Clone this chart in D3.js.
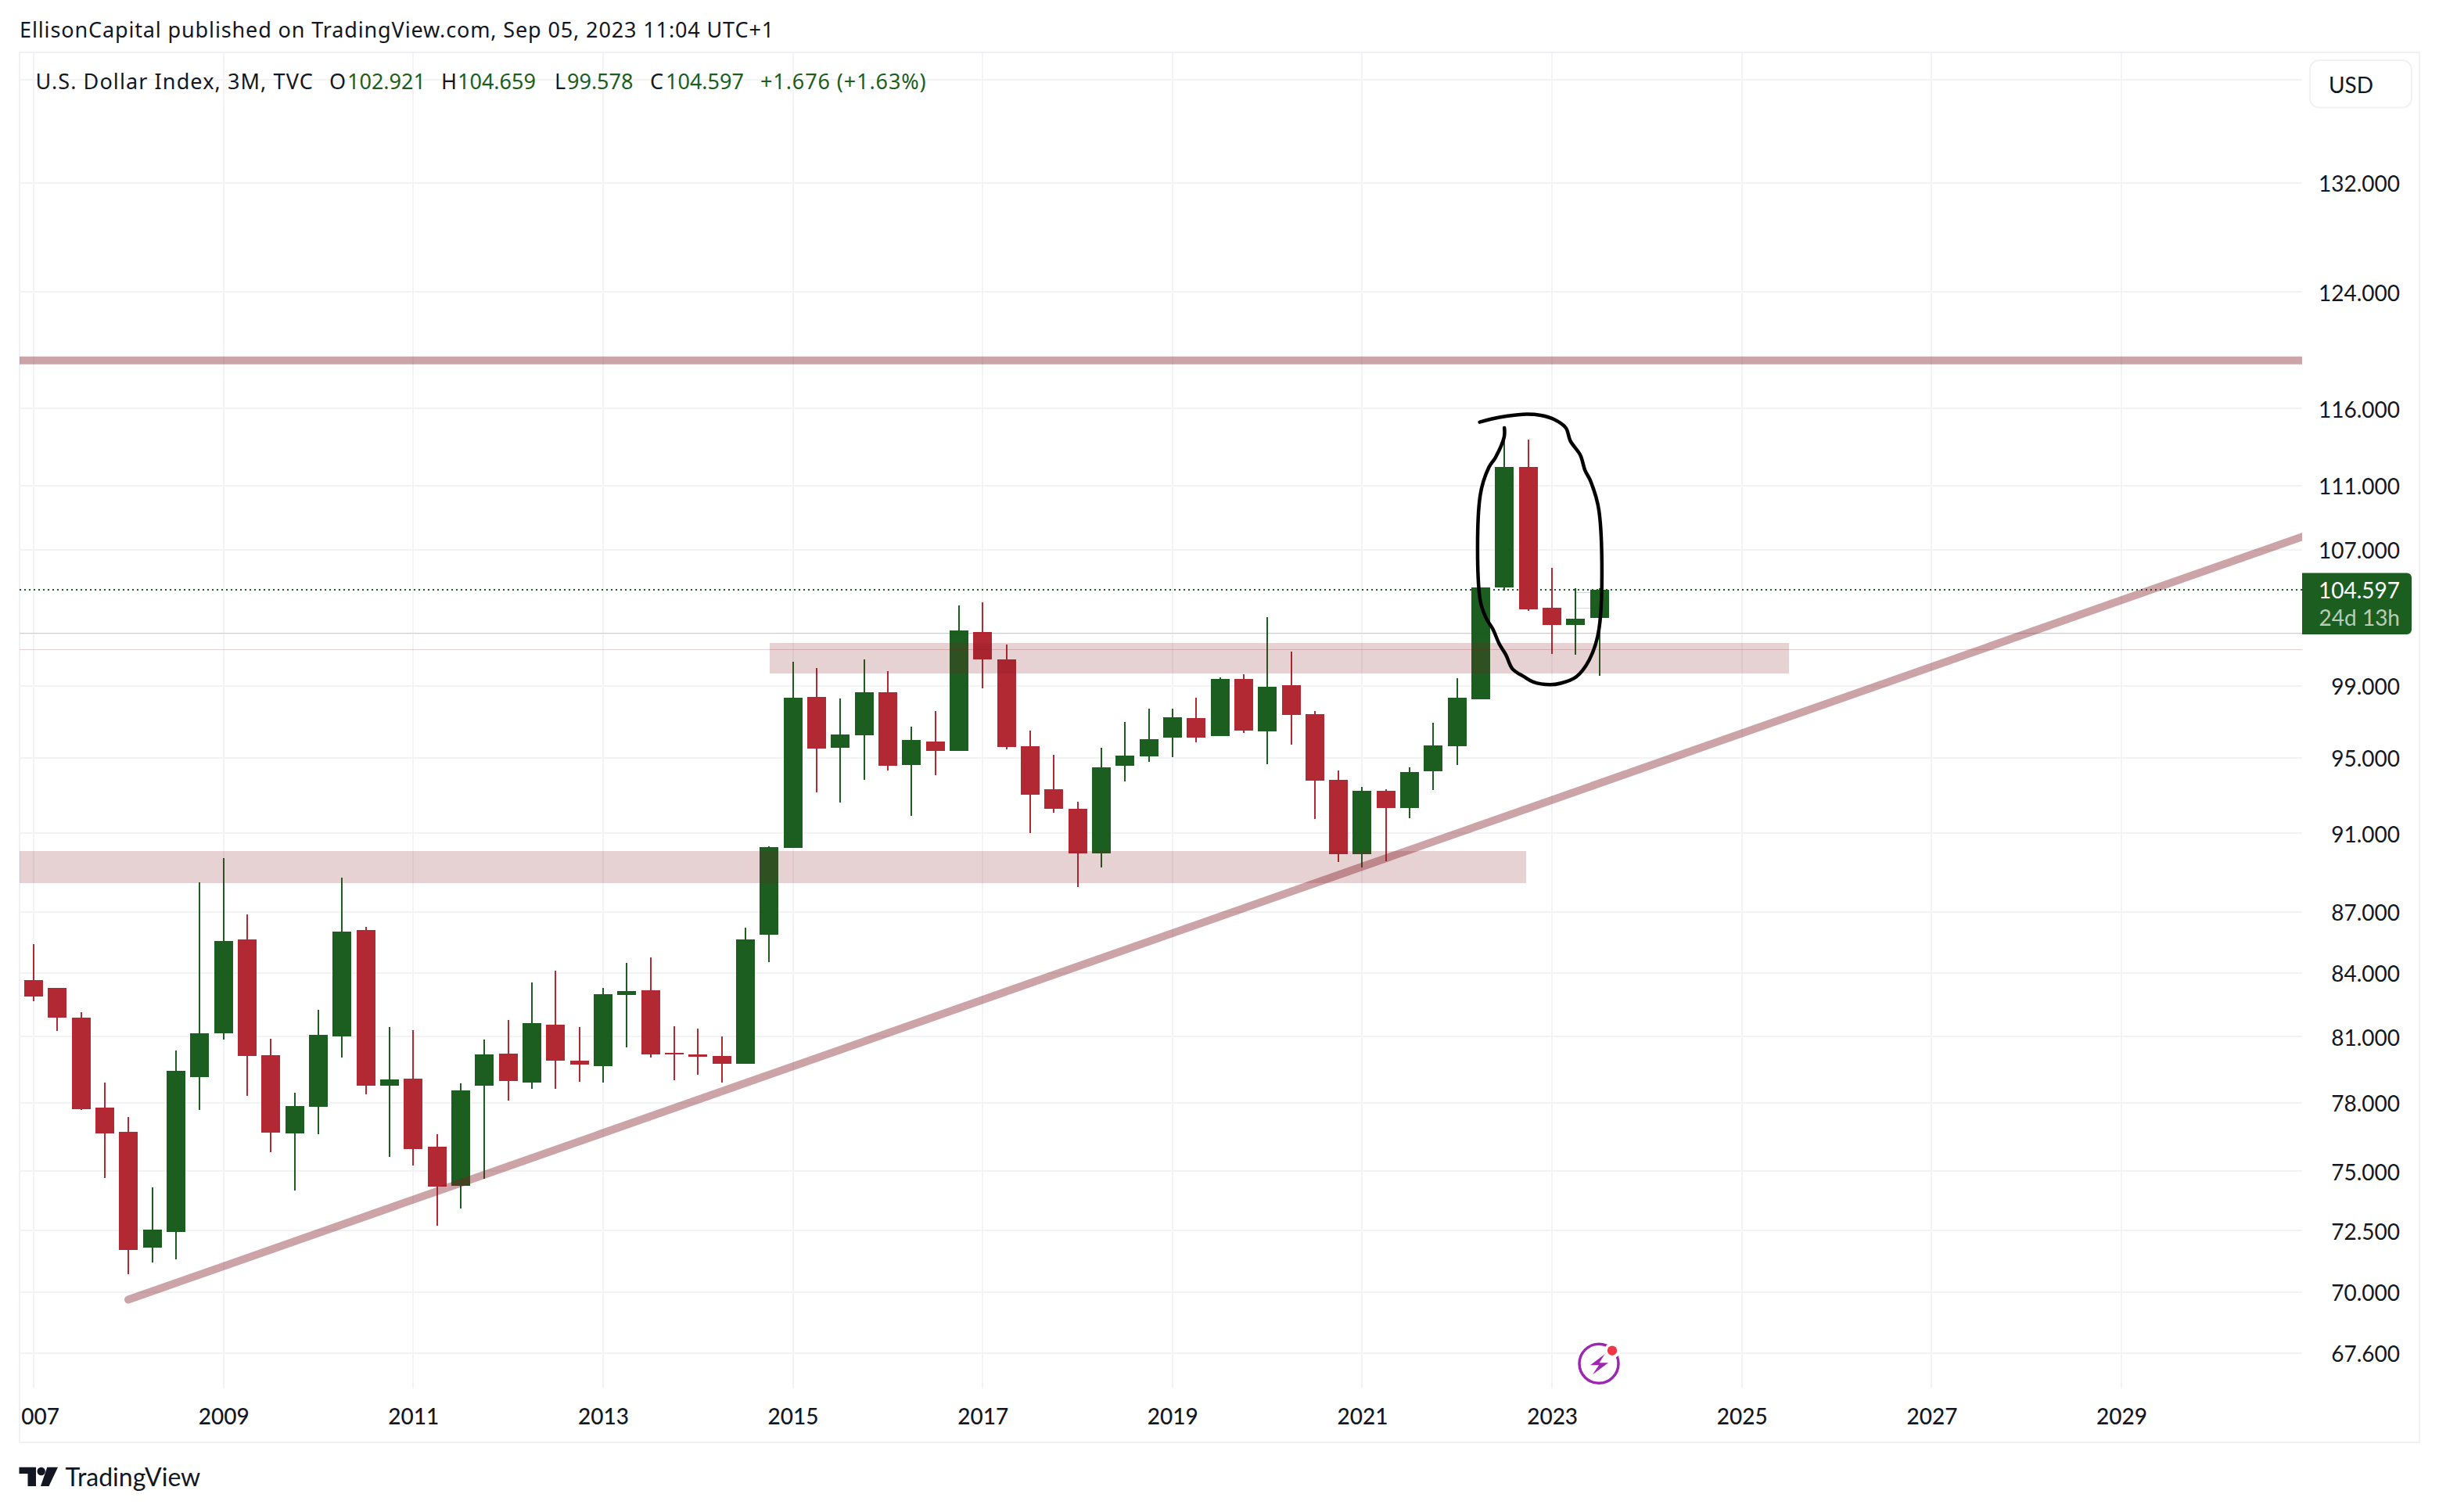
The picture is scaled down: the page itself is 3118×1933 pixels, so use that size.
<!DOCTYPE html>
<html><head><meta charset="utf-8">
<script src="https://cdn.jsdelivr.net/npm/d3@7/dist/d3.min.js"></script>
<style>html,body{margin:0;padding:0;background:#fff}svg{display:block}text{font-family:Lato,"Noto Sans",sans-serif;fill:#131722}</style>
</head><body><svg id="c" width="3118" height="1933"></svg>
<script>
// Quarterly candles, 2007 Q1 .. 2023 Q3
const opens=[83.66,83.29,81.87,77.77,76.70,71.81,72.44,79.15,81.15,85.64,80.14,76.63,77.80,81.00,86.08,78.76,79.08,76.05,74.39,78.76,80.21,78.91,81.54,79.90,79.65,82.95,83.17,80.26,80.18,80.11,79.75,85.85,90.23,98.38,95.54,96.23,98.64,94.61,95.89,95.38,102.10,100.49,95.63,93.29,92.27,89.96,94.57,95.09,96.10,97.18,96.18,99.38,96.45,99.02,97.39,93.80,89.92,93.21,92.31,94.27,95.63,98.25,104.71,112.17,103.49,102.50,102.921];
const closes=[82.87,81.90,77.70,76.63,71.69,72.53,79.44,81.15,85.56,80.11,76.67,77.84,81.08,86.03,78.76,79.05,75.96,74.33,78.54,80.18,78.98,81.62,79.90,79.72,82.99,83.14,80.18,80.18,80.07,79.75,85.64,90.27,98.34,95.50,96.27,98.64,94.57,95.97,95.38,102.19,100.49,95.59,93.01,92.27,89.96,94.49,95.13,96.01,97.22,96.10,99.38,96.49,98.93,97.35,93.76,89.92,93.21,92.31,94.23,95.67,98.34,104.71,112.17,103.44,102.50,102.86,104.597];
const highs=[85.42,83.29,82.15,78.91,77.35,74.30,80.35,88.47,89.70,86.85,80.90,78.43,82.26,88.70,86.23,81.44,81.29,76.60,78.86,80.87,81.77,83.54,84.10,81.44,83.29,84.49,84.75,81.47,81.36,81.00,86.20,90.31,100.36,100.00,98.29,100.49,99.82,96.70,97.56,103.63,103.82,101.34,96.49,95.17,92.63,95.54,96.96,97.69,97.69,98.34,99.46,99.64,102.95,100.94,97.60,94.30,93.42,93.33,94.49,96.92,99.42,104.71,114.70,113.95,105.90,104.67,104.659];
const lows=[82.65,81.26,77.66,74.72,70.71,71.18,71.30,77.66,80.87,78.32,75.83,74.17,76.60,80.04,78.39,75.62,75.25,72.69,73.42,74.68,78.09,78.63,78.63,78.94,78.91,80.51,80.04,79.01,79.26,78.91,79.75,84.51,90.23,93.13,92.59,93.80,94.30,91.91,94.05,95.38,98.85,95.46,91.00,92.06,88.23,89.23,93.72,94.79,95.02,95.84,96.18,96.36,94.66,95.71,91.73,89.52,89.23,89.56,91.77,93.25,94.61,98.25,104.56,103.35,100.81,100.76,99.578];

const priceTicks=[132,124,116,111,107,99,95,91,87,84,81,78,75,72.5,70,67.6];
const hiddenGridPrices=[140,102];
const yearTicks=[2007,2009,2011,2013,2015,2017,2019,2021,2023,2025,2027,2029];
const lastPrice=104.597;

// Drawings: [start index, end index, price, price]
const zoneBands=[[-2,62.9,90.06,88.44],[31.03,73.99,101.45,99.69]];
const thickLevel=119.24;
const thinLevels=[102.02,101.07];
const shortLevels=[[65.0,65.95,104.44],[65.0,65.95,103.49]];
const trendIdx=[3.99,96.5];
const trendPrice=[69.69,108.26];
const circleIdx=[60.95,61.78,62.77,63.53,64.09,64.58,64.77,65.19,65.39,65.62,65.98,65.98,65.57,65.02,64.36,63.92,63.21,62.82,62.33,62.05,61.78,61.5,61.23,60.97,60.97,61.34,61.61,61.98,61.99];
const circlePrice=[115.11,115.42,115.62,115.55,115.28,114.73,113.88,112.96,111.97,111.30,109.39,102.27,100.48,99.51,99.14,99.06,99.21,99.51,99.96,100.78,101.38,102.27,102.88,103.97,110.37,112.18,112.79,114.13,114.73];

const green="#1b5e20",red="#b22833",ink="#131722",grid="#f3f3f5",border="#f0f1f7",mark="#801922";
const svg=d3.select("#c");
const x=d3.scaleLinear().domain([0,66]).range([43,2044.8]);
const y=d3.scaleLog().domain([70,132]).range([1651.6,233.5]);
const paneL=25,paneR=2943,paneT=67,paneB=1775;
const idx=opens.map((_,i)=>i);

const defs=svg.append("defs");
defs.append("clipPath").attr("id","pane").append("rect").attr("x",paneL).attr("y",paneT).attr("width",paneR-paneL).attr("height",paneB-paneT);
defs.append("clipPath").attr("id","timeclip").append("rect").attr("x",26.5).attr("y",paneB).attr("width",3093-26.5).attr("height",1844-paneB);

// frame
svg.append("rect").attr("x",paneL).attr("y",paneT).attr("width",3093-paneL).attr("height",1844-paneT).attr("fill","none").attr("stroke",border).attr("stroke-width",2);

const pane=svg.append("g").attr("clip-path","url(#pane)");
pane.selectAll("line.gy").data(priceTicks.concat(hiddenGridPrices)).join("line").attr("class","gy")
 .attr("x1",paneL).attr("x2",paneR).attr("y1",d=>y(d)).attr("y2",d=>y(d)).attr("stroke",grid).attr("stroke-width",2).attr("shape-rendering","crispEdges");
pane.selectAll("line.gx").data(yearTicks).join("line").attr("class","gx")
 .attr("x1",d=>x((d-2007)*4)).attr("x2",d=>x((d-2007)*4)).attr("y1",paneT).attr("y2",paneB).attr("stroke",grid).attr("stroke-width",2).attr("shape-rendering","crispEdges");

// last price dotted
pane.append("line").attr("x1",paneL).attr("x2",paneR).attr("y1",y(lastPrice)).attr("y2",y(lastPrice))
 .attr("stroke",green).attr("stroke-width",2).attr("stroke-dasharray","2 4").attr("shape-rendering","crispEdges");

// candles
const col=i=>closes[i]>=opens[i]?green:red;
pane.selectAll("line.wick").data(idx).join("line").attr("class","wick")
 .attr("x1",i=>x(i)).attr("x2",i=>x(i)).attr("y1",i=>y(highs[i])).attr("y2",i=>y(lows[i])).attr("stroke",col).attr("stroke-width",2).attr("shape-rendering","crispEdges");
pane.selectAll("rect.body").data(idx).join("rect").attr("class","body")
 .attr("x",i=>x(i)-12).attr("width",24)
 .attr("y",i=>y(Math.max(opens[i],closes[i])))
 .attr("height",i=>Math.max(2,Math.abs(y(opens[i])-y(closes[i])))).attr("fill",col).attr("shape-rendering","crispEdges");

// zones and levels
pane.selectAll("rect.zone").data(zoneBands).join("rect").attr("class","zone")
 .attr("x",d=>x(d[0])).attr("width",d=>x(d[1])-x(d[0])).attr("y",d=>y(d[2])).attr("height",d=>y(d[3])-y(d[2]))
 .attr("fill",mark).attr("fill-opacity",.2).attr("shape-rendering","crispEdges");
pane.selectAll("line.thin").data(thinLevels).join("line").attr("class","thin")
 .attr("x1",paneL).attr("x2",paneR).attr("y1",d=>y(d)).attr("y2",d=>y(d)).attr("stroke",mark).attr("stroke-opacity",.2).attr("stroke-width",1).attr("shape-rendering","crispEdges");
pane.selectAll("line.short").data(shortLevels).join("line").attr("class","short")
 .attr("x1",d=>x(d[0])).attr("x2",d=>x(d[1])).attr("y1",d=>y(d[2])).attr("y2",d=>y(d[2])).attr("stroke",mark).attr("stroke-opacity",.2).attr("stroke-width",1).attr("shape-rendering","crispEdges");
pane.append("line").attr("x1",paneL).attr("x2",paneR).attr("y1",y(thickLevel)).attr("y2",y(thickLevel))
 .attr("stroke",mark).attr("stroke-opacity",.4).attr("stroke-width",10);
pane.append("line").attr("x1",x(trendIdx[0])).attr("x2",x(trendIdx[1])).attr("y1",y(trendPrice[0])).attr("y2",y(trendPrice[1]))
 .attr("stroke",mark).attr("stroke-opacity",.4).attr("stroke-width",10).attr("stroke-linecap","round");

// hand drawn loop
pane.append("path").attr("d",d3.line().x(i=>x(circleIdx[i])).y(i=>y(circlePrice[i])).curve(d3.curveCatmullRom.alpha(.5))(circleIdx.map((_,i)=>i)))
 .attr("fill","none").attr("stroke","#000").attr("stroke-width",4.5).attr("stroke-linecap","round").attr("stroke-linejoin","round");

// price axis
const py=d3.axisRight(y).tickValues(priceTicks).tickFormat(d3.format(".3f")).tickSize(0);
const pg=svg.append("g").attr("transform","translate(3068,0)").call(py);
pg.select(".domain").remove();
pg.selectAll("text").attr("x",0).attr("dy",null).attr("dominant-baseline","central").attr("text-anchor","end").style("font-size","28px").style("font-family",'Lato,sans-serif').style("fill",ink);

// time axis
const ty=d3.axisBottom(x).tickValues(yearTicks.map(d=>(d-2007)*4)).tickFormat(d=>String(2007+d/4)).tickSize(0);
const tw=svg.append("g").attr("clip-path","url(#timeclip)").append("g").call(ty);
tw.select(".domain").remove();
tw.selectAll("text").attr("y",1820.7).attr("dy",null).style("font-size","28px").style("font-family",'Lato,sans-serif').style("font-weight",500).style("fill",ink);

// USD button
svg.append("rect").attr("x",2953).attr("y",77).attr("width",130).attr("height",60.5).attr("rx",12).attr("fill","#fff").attr("stroke",border).attr("stroke-width",2);
svg.append("text").attr("x",2977).attr("y",118.7).attr("font-size",28).text("USD");

// last price tag
svg.append("path").attr("d","M2943 732.4H3077a6 6 0 0 1 6 6V805a6 6 0 0 1 -6 6H2943Z").attr("fill",green);
svg.append("text").attr("x",3068).attr("y",765).attr("text-anchor","end").attr("font-size",28).style("fill","#fff").text(d3.format(".3f")(lastPrice));
svg.append("text").attr("x",3068).attr("y",800).attr("text-anchor","end").attr("font-size",28).style("fill","rgba(255,255,255,.7)").text("24d 13h");

// titles
const wide='"Noto Sans",sans-serif';
svg.append("text").attr("x",25).attr("y",48).attr("font-size",27).style("font-family",wide).style("letter-spacing","0.87px").text("EllisonCapital published on TradingView.com, Sep 05, 2023 11:04 UTC+1");
const legend=[[45.6,"U.S. Dollar Index, 3M, TVC",ink,1.1],[421,"O",ink,0],[444,"102.921",green,0],[564,"H",ink,0],[585,"104.659",green,0],[709,"L",ink,0],[725,"99.578",green,0],[831,"C",ink,0],[851,"104.597",green,0],[972,"+1.676 (+1.63%)",green,0.9]];
svg.selectAll("text.lg").data(legend).join("text").attr("class","lg").attr("x",d=>d[0]).attr("y",114).attr("font-size",27).style("font-family",wide).style("letter-spacing",d=>d[3]+"px").style("fill",d=>d[2]).text(d=>d[1]);

// lightning badge
const b=svg.append("g").attr("transform","translate(2044,1743.3)");
b.append("circle").attr("r",29).attr("fill","#fff");
b.append("circle").attr("r",25).attr("fill","#fff").attr("stroke","#9c27b0").attr("stroke-width",3.5);
b.append("path").attr("d","M7.5 -12 L-11 2 L0 2 L-8 14 L12 -1 L0.5 -1 Z").attr("fill","#9c27b0");
b.append("circle").attr("cx",17).attr("cy",-16.6).attr("r",10).attr("fill","#fff");
b.append("circle").attr("cx",17).attr("cy",-16.6).attr("r",6.2).attr("fill","#f23645");

// logo
const l=svg.append("g").attr("fill",ink);
l.append("path").attr("d","M24.5 1875.7H46V1900H35.5V1884H24.5Z");
l.append("circle").attr("cx",52.7).attr("cy",1881).attr("r",5.2);
l.append("path").attr("d","M60.3 1875.7H74L62.5 1900H52Z");
svg.append("text").attr("x",83.5).attr("y",1900).attr("font-size",32).text("TradingView");
</script></body></html>
